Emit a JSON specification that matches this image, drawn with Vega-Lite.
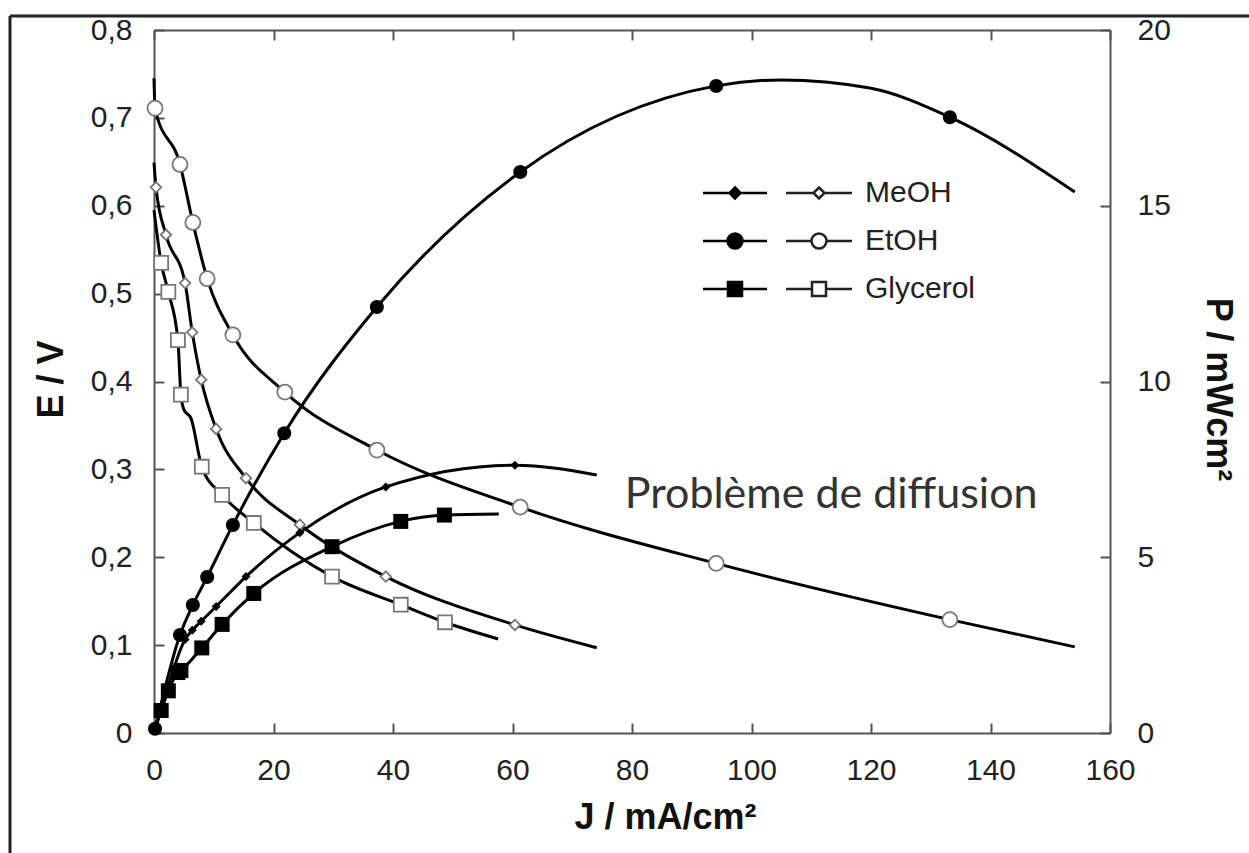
{
  "$schema": "https://vega.github.io/schema/vega-lite/v6.json",
  "autosize": "none",
  "width": 956,
  "height": 703,
  "padding": {"left": 154, "top": 30, "right": 139, "bottom": 120},
  "background": "white",
  "config": {"view": {"stroke": null}, "font": "Liberation Sans"},
  "datasets": {
    "pol": [
      {"fuel": "MeOH", "J": 0, "E": 0.649, "measured": false},
      {"fuel": "MeOH", "J": 0.33, "E": 0.621, "measured": true},
      {"fuel": "MeOH", "J": 2.0, "E": 0.567, "measured": true},
      {"fuel": "MeOH", "J": 5.2, "E": 0.512, "measured": true},
      {"fuel": "MeOH", "J": 6.4, "E": 0.456, "measured": true},
      {"fuel": "MeOH", "J": 7.9, "E": 0.402, "measured": true},
      {"fuel": "MeOH", "J": 10.4, "E": 0.346, "measured": true},
      {"fuel": "MeOH", "J": 15.4, "E": 0.29, "measured": true},
      {"fuel": "MeOH", "J": 24.4, "E": 0.237, "measured": true},
      {"fuel": "MeOH", "J": 38.8, "E": 0.178, "measured": true},
      {"fuel": "MeOH", "J": 60.4, "E": 0.123, "measured": true},
      {"fuel": "MeOH", "J": 74.1, "E": 0.097, "measured": false},
      {"fuel": "EtOH", "J": 0, "E": 0.745, "measured": false},
      {"fuel": "EtOH", "J": 0.17, "E": 0.711, "measured": true},
      {"fuel": "EtOH", "J": 4.35, "E": 0.647, "measured": true},
      {"fuel": "EtOH", "J": 6.5, "E": 0.581, "measured": true},
      {"fuel": "EtOH", "J": 8.9, "E": 0.517, "measured": true},
      {"fuel": "EtOH", "J": 13.2, "E": 0.453, "measured": true},
      {"fuel": "EtOH", "J": 21.9, "E": 0.388, "measured": true},
      {"fuel": "EtOH", "J": 37.3, "E": 0.322, "measured": true},
      {"fuel": "EtOH", "J": 61.3, "E": 0.257, "measured": true},
      {"fuel": "EtOH", "J": 94.1, "E": 0.193, "measured": true},
      {"fuel": "EtOH", "J": 133.2, "E": 0.129, "measured": true},
      {"fuel": "EtOH", "J": 154.1, "E": 0.098, "measured": false},
      {"fuel": "Glycerol", "J": 0, "E": 0.595, "measured": false},
      {"fuel": "Glycerol", "J": 1.2, "E": 0.535, "measured": true},
      {"fuel": "Glycerol", "J": 2.4, "E": 0.502, "measured": true},
      {"fuel": "Glycerol", "J": 4.0, "E": 0.447, "measured": true},
      {"fuel": "Glycerol", "J": 4.5, "E": 0.385, "measured": true},
      {"fuel": "Glycerol", "J": 5.0, "E": 0.368, "measured": false},
      {"fuel": "Glycerol", "J": 6.2, "E": 0.358, "measured": false},
      {"fuel": "Glycerol", "J": 8.0, "E": 0.303, "measured": true},
      {"fuel": "Glycerol", "J": 11.4, "E": 0.271, "measured": true},
      {"fuel": "Glycerol", "J": 16.7, "E": 0.239, "measured": true},
      {"fuel": "Glycerol", "J": 29.8, "E": 0.178, "measured": true},
      {"fuel": "Glycerol", "J": 41.3, "E": 0.146, "measured": true},
      {"fuel": "Glycerol", "J": 48.7, "E": 0.126, "measured": true},
      {"fuel": "Glycerol", "J": 57.6, "E": 0.107, "measured": false}
    ],
    "pow": [
      {"fuel": "MeOH", "J": 0, "P": 0, "measured": false},
      {"fuel": "MeOH", "J": 0.33, "P": 0.2, "measured": true},
      {"fuel": "MeOH", "J": 2.0, "P": 1.13, "measured": true},
      {"fuel": "MeOH", "J": 5.2, "P": 2.66, "measured": true},
      {"fuel": "MeOH", "J": 6.4, "P": 2.92, "measured": true},
      {"fuel": "MeOH", "J": 7.9, "P": 3.18, "measured": true},
      {"fuel": "MeOH", "J": 10.4, "P": 3.6, "measured": true},
      {"fuel": "MeOH", "J": 15.4, "P": 4.45, "measured": true},
      {"fuel": "MeOH", "J": 24.4, "P": 5.7, "measured": true},
      {"fuel": "MeOH", "J": 38.8, "P": 7.0, "measured": true},
      {"fuel": "MeOH", "J": 60.4, "P": 7.62, "measured": true},
      {"fuel": "MeOH", "J": 74.1, "P": 7.34, "measured": false},
      {"fuel": "EtOH", "J": 0, "P": 0, "measured": false},
      {"fuel": "EtOH", "J": 0.17, "P": 0.12, "measured": true},
      {"fuel": "EtOH", "J": 4.35, "P": 2.79, "measured": true},
      {"fuel": "EtOH", "J": 6.5, "P": 3.64, "measured": true},
      {"fuel": "EtOH", "J": 8.9, "P": 4.44, "measured": true},
      {"fuel": "EtOH", "J": 13.2, "P": 5.92, "measured": true},
      {"fuel": "EtOH", "J": 21.8, "P": 8.53, "measured": true},
      {"fuel": "EtOH", "J": 37.3, "P": 12.12, "measured": true},
      {"fuel": "EtOH", "J": 61.3, "P": 15.96, "measured": true},
      {"fuel": "EtOH", "J": 94.1, "P": 18.41, "measured": true},
      {"fuel": "EtOH", "J": 105, "P": 18.58, "measured": false},
      {"fuel": "EtOH", "J": 119.8, "P": 18.35, "measured": false},
      {"fuel": "EtOH", "J": 133.2, "P": 17.52, "measured": true},
      {"fuel": "EtOH", "J": 154.1, "P": 15.39, "measured": false},
      {"fuel": "Glycerol", "J": 0, "P": 0, "measured": false},
      {"fuel": "Glycerol", "J": 1.2, "P": 0.64, "measured": true},
      {"fuel": "Glycerol", "J": 2.4, "P": 1.2, "measured": true},
      {"fuel": "Glycerol", "J": 4.0, "P": 1.72, "measured": true},
      {"fuel": "Glycerol", "J": 4.5, "P": 1.78, "measured": true},
      {"fuel": "Glycerol", "J": 8.0, "P": 2.42, "measured": true},
      {"fuel": "Glycerol", "J": 11.4, "P": 3.09, "measured": true},
      {"fuel": "Glycerol", "J": 16.7, "P": 3.97, "measured": true},
      {"fuel": "Glycerol", "J": 29.8, "P": 5.3, "measured": true},
      {"fuel": "Glycerol", "J": 41.3, "P": 6.02, "measured": true},
      {"fuel": "Glycerol", "J": 48.6, "P": 6.2, "measured": true},
      {"fuel": "Glycerol", "J": 57.7, "P": 6.23, "measured": false}
    ]
  },
  "layer": [
    {
      "data": {"name": "pol"},
      "mark": {"type": "line", "interpolate": "monotone", "color": "black", "strokeWidth": 3},
      "encoding": {
        "x": {
          "field": "J", "type": "quantitative",
          "scale": {"domain": [0, 160], "nice": false, "zero": false},
          "axis": {
            "orient": "bottom",
            "values": [0, 20, 40, 60, 80, 100, 120, 140, 160],
            "grid": false, "labelFlush": false,
            "tickSize": -10, "tickWidth": 2, "tickColor": "#555",
            "domainColor": "#555", "domainWidth": 2,
            "labelFontSize": 30, "labelColor": "#222", "labelPadding": 32,
            "title": "J / mA/cm²",
            "titleFontSize": 36, "titleFontWeight": "bold", "titleColor": "#111",
            "titleX": 511, "titleY": 95, "titleAlign": "center", "titleBaseline": "alphabetic"
          }
        },
        "y": {
          "field": "E", "type": "quantitative",
          "scale": {"domain": [0, 0.8], "nice": false, "zero": false},
          "axis": {
            "orient": "left",
            "values": [0, 0.1, 0.2, 0.3, 0.4, 0.5, 0.6, 0.7, 0.8],
            "labelExpr": "datum.value == 0 ? '0' : replace(format(datum.value, '.1f'), '.', ',')",
            "grid": false, "labelFlush": false,
            "tickSize": -10, "tickWidth": 2, "tickColor": "#555",
            "domainColor": "#555", "domainWidth": 2,
            "labelFontSize": 30, "labelColor": "#222", "labelPadding": 32,
            "title": "E / V",
            "titleFontSize": 36, "titleFontWeight": "bold", "titleColor": "#111",
            "titleAngle": -90, "titleX": -103, "titleY": 349, "titleAlign": "center", "titleBaseline": "middle"
          }
        },
        "detail": {"field": "fuel"}
      }
    },
    {
      "data": {"name": "pol"},
      "transform": [{"filter": "datum.measured"}],
      "mark": {"type": "point", "filled": true, "fill": "white", "stroke": "#777", "strokeWidth": 1.8, "opacity": 1, "size": 225},
      "encoding": {
        "x": {"field": "J", "type": "quantitative", "axis": null},
        "y": {"field": "E", "type": "quantitative", "scale": {"domain": [0, 0.8], "nice": false, "zero": false}, "axis": null},
        "shape": {
          "field": "fuel", "type": "nominal",
          "scale": {"domain": ["MeOH", "EtOH", "Glycerol"], "range": ["M0,-0.7L0.7,0L0,0.7L-0.7,0Z", "circle", "M-0.93,-0.93H0.93V0.93H-0.93Z"]},
          "legend": null
        }
      }
    },
    {
      "data": {"name": "pow"},
      "mark": {"type": "line", "interpolate": "monotone", "color": "black", "strokeWidth": 3},
      "encoding": {
        "x": {
          "field": "J", "type": "quantitative",
          "axis": {
            "orient": "top",
            "values": [0, 20, 40, 60, 80, 100, 120, 140, 160],
            "grid": false, "labels": false, "title": null,
            "tickSize": -10, "tickWidth": 2, "tickColor": "#555",
            "domainColor": "#555", "domainWidth": 2
          }
        },
        "y": {
          "field": "P", "type": "quantitative",
          "scale": {"domain": [0, 20], "nice": false, "zero": false},
          "axis": {
            "orient": "right",
            "values": [0, 5, 10, 15, 20],
            "grid": false, "labelFlush": false,
            "tickSize": -10, "tickWidth": 2, "tickColor": "#555",
            "domainColor": "#555", "domainWidth": 2,
            "labelFontSize": 30, "labelColor": "#222", "labelPadding": 37,
            "title": "P / mWcm²",
            "titleFontSize": 36, "titleFontWeight": "bold", "titleColor": "#111",
            "titleAngle": 90, "titleX": 107, "titleY": 359, "titleAlign": "center", "titleBaseline": "middle"
          }
        },
        "detail": {"field": "fuel"}
      }
    },
    {
      "data": {"name": "pow"},
      "transform": [{"filter": "datum.measured"}],
      "mark": {"type": "point", "filled": true, "color": "black", "opacity": 1, "size": 225},
      "encoding": {
        "x": {"field": "J", "type": "quantitative", "axis": null},
        "y": {"field": "P", "type": "quantitative", "scale": {"domain": [0, 20], "nice": false, "zero": false}, "axis": null},
        "shape": {
          "field": "fuel", "type": "nominal",
          "scale": {"domain": ["MeOH", "EtOH", "Glycerol"], "range": ["M0,-0.6L0.6,0L0,0.6L-0.6,0Z", "M-0.93,0A0.93,0.93,0,1,1,0.93,0A0.93,0.93,0,1,1,-0.93,0Z", "M-1,-1H1V1H-1Z"]},
          "legend": null
        }
      }
    },
    {
      "data": {"name": "pol"},
      "transform": [{"filter": "datum.J < 0"}],
      "mark": {"type": "point", "filled": true, "fill": "black", "stroke": "black", "strokeWidth": 2.5, "opacity": 1, "size": 400},
      "encoding": {
        "x": {"field": "J", "type": "quantitative", "axis": null},
        "y": {"field": "E", "type": "quantitative", "scale": {"domain": [0, 0.8], "nice": false, "zero": false}, "axis": null},
        "shape": {
          "field": "fuel", "type": "nominal",
          "scale": {"domain": ["MeOH", "EtOH", "Glycerol"], "range": [
            "M-3.2,0H3.2M0,-0.55L0.55,0L0,0.55L-0.55,0Z",
            "M-3.2,0H3.2M-0.75,0A0.75,0.75,0,1,1,0.75,0A0.75,0.75,0,1,1,-0.75,0Z",
            "M-3.2,0H3.2M-0.7,-0.7H0.7V0.7H-0.7Z"
          ]},
          "legend": {
            "orient": "none", "legendX": 566, "legendY": 148,
            "title": null, "padding": 0,
            "symbolSize": 400, "symbolStrokeWidth": 2.5,
            "labelFontSize": 30, "labelOffset": 4,
            "labelExpr": "' '",
            "rowPadding": 18
          }
        }
      }
    },
    {
      "data": {"name": "pol"},
      "transform": [{"filter": "datum.J < 0"}],
      "mark": {"type": "point", "filled": true, "fill": "white", "stroke": "#222", "strokeWidth": 2.5, "opacity": 1, "size": 400},
      "encoding": {
        "x": {"field": "J", "type": "quantitative", "axis": null},
        "y": {"field": "E", "type": "quantitative", "scale": {"domain": [0, 0.8], "nice": false, "zero": false}, "axis": null},
        "shape": {
          "field": "fuel", "type": "nominal",
          "scale": {"domain": ["MeOH", "EtOH", "Glycerol"], "range": [
            "M-3.3,0H-0.55M0.55,0H3.3M0,-0.55L0.55,0L0,0.55L-0.55,0Z",
            "M-3.3,0H-0.75M0.75,0H3.3M-0.75,0A0.75,0.75,0,1,1,0.75,0A0.75,0.75,0,1,1,-0.75,0Z",
            "M-3.3,0H-0.7M0.7,0H3.3M-0.7,-0.7H0.7V0.7H-0.7Z"
          ]},
          "legend": {
            "orient": "none", "legendX": 650, "legendY": 148,
            "title": null, "padding": 0,
            "symbolSize": 400, "symbolStrokeWidth": 2.5,
            "labelFontSize": 30, "labelColor": "#222", "labelOffset": 31,
            "rowPadding": 18
          }
        }
      }
    },
    {
      "data": {"values": [{"note": "Problème de diffusion"}]},
      "mark": {"type": "text", "font": "Lato", "fontSize": 43, "color": "#333", "align": "left", "baseline": "alphabetic"},
      "encoding": {
        "x": {"datum": 78.8, "type": "quantitative", "axis": null},
        "y": {"datum": 0.256, "type": "quantitative", "scale": {"domain": [0, 0.8], "nice": false, "zero": false}, "axis": null},
        "text": {"field": "note"}
      }
    },
    {
      "data": {"values": [{"x": 0}]},
      "mark": {"type": "rule", "color": "#222", "strokeWidth": 3},
      "encoding": {
        "x": {"datum": -24.1, "type": "quantitative", "axis": null},
        "y": {"datum": 0.816, "type": "quantitative", "scale": {"domain": [0, 0.8], "nice": false, "zero": false}, "axis": null},
        "y2": {"datum": -0.2}
      }
    },
    {
      "data": {"values": [{"x": 0}]},
      "mark": {"type": "rule", "color": "#222", "strokeWidth": 3},
      "encoding": {
        "x": {"datum": -24.1, "type": "quantitative", "axis": null},
        "x2": {"datum": 190},
        "y": {"datum": 0.816, "type": "quantitative", "scale": {"domain": [0, 0.8], "nice": false, "zero": false}, "axis": null}
      }
    }
  ],
  "resolve": {
    "scale": {"y": "independent", "shape": "independent"},
    "axis": {"x": "independent", "y": "independent"},
    "legend": {"shape": "independent"}
  }
}
